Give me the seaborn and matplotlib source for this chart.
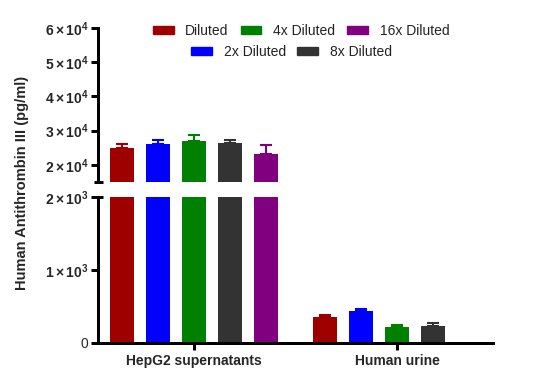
import numpy as np
import pandas as pd
import matplotlib
matplotlib.use("Agg")
import matplotlib.pyplot as plt
from matplotlib.patches import Patch
import seaborn as sns

# ---- data ----
categories = ["HepG2 supernatants", "Human urine"]
dilutions = ["Diluted", "2x Diluted", "4x Diluted", "8x Diluted", "16x Diluted"]
hepg2_mean = [25000, 26100, 26900, 26400, 23200]
hepg2_err = [1000, 1300, 1750, 800, 2600]
urine_mean = [360, 434, 219, 237, np.nan]
urine_err = [23, 27, 23, 33, np.nan]
colors = ["#9E0000", "#0000FF", "#008000", "#333333", "#800080"]

upper_ticks = [20000, 30000, 40000, 50000, 60000]
upper_labels = [r"$2\times10^{4}$", r"$3\times10^{4}$", r"$4\times10^{4}$",
                r"$5\times10^{4}$", r"$6\times10^{4}$"]
lower_ticks = [0, 1000, 2000]
lower_labels = ["0", r"$1\times10^{3}$", r"$2\times10^{3}$"]

rows = []
for c, means, errs in [(categories[0], hepg2_mean, hepg2_err),
                       (categories[1], urine_mean, urine_err)]:
    for d, m, e in zip(dilutions, means, errs):
        if not np.isnan(m):
            rows.append({"sample": c, "dilution": d, "value": m, "err": e})
df = pd.DataFrame(rows)

sns.set_style("white")
plt.rcParams["font.family"] = ["Liberation Sans", "DejaVu Sans"]
plt.rcParams["mathtext.fontset"] = "custom"
plt.rcParams["mathtext.rm"] = "Liberation Sans:bold"
plt.rcParams["mathtext.bf"] = "Liberation Sans:bold"
plt.rcParams["mathtext.it"] = "Liberation Sans:bold"
plt.rcParams["mathtext.default"] = "rm"

W, H = 538, 389
fig = plt.figure(figsize=(W / 100, H / 100), dpi=100)
left = 98 / W
width = (493 - 98) / W
ax_up = fig.add_axes([left, 1 - 182 / H, width, (182 - 28) / H])
ax_lo = fig.add_axes([left, 1 - 343 / H, width, (343 - 197) / H])

palette = dict(zip(dilutions, colors))
lw_sp = 2.16

for ax in (ax_up, ax_lo):
    sns.barplot(data=df, x="sample", y="value", hue="dilution",
                order=categories, hue_order=dilutions, palette=palette,
                width=0.887, gap=0.333, errorbar=None, legend=False,
                saturation=1, ax=ax, linewidth=0)
    # error bars (upper only) at bar centres
    for hue_name, cont in zip(dilutions, ax.containers):
        sub = df[df["dilution"] == hue_name].set_index("sample").reindex(categories).dropna()
        for patch, (_, r) in zip(cont.patches, sub.iterrows()):
            xc = patch.get_x() + patch.get_width() / 2
            ax.errorbar([xc], [r["value"]], yerr=[[0], [r["err"]]],
                        color=palette[hue_name], capsize=4, elinewidth=1.5,
                        capthick=1.5, fmt="none", zorder=3)
    ax.set_xlim(-0.473, 1.473)
    ax.set_xlabel("")
    ax.set_ylabel("")
    for s in ["top", "right"]:
        ax.spines[s].set_visible(False)
    ax.spines["left"].set_linewidth(lw_sp)
    ax.spines["bottom"].set_linewidth(lw_sp)
    ax.spines["left"].set_color("black")
    ax.spines["bottom"].set_color("black")
    ax.set_facecolor("none")
    ax.tick_params(axis="y", length=5, width=lw_sp, color="black", pad=2,
                   labelsize=10, direction="out", left=True)
    ax.tick_params(axis="x", length=5, width=lw_sp, color="black", pad=3,
                   direction="out", bottom=True)

ax_up.set_ylim(15000, 60000)
ax_up.set_yticks(upper_ticks)
ax_up.set_yticklabels(upper_labels)
ax_up.spines["bottom"].set_visible(False)
ax_up.tick_params(axis="x", bottom=False, labelbottom=False)

ax_lo.set_ylim(0, 2000)
ax_lo.set_yticks(lower_ticks)
ax_lo.set_yticklabels(lower_labels)
for lab in ax_lo.get_xticklabels():
    lab.set_fontweight("bold")
    lab.set_fontsize(10)

# break caps on the y axis
half = 4.5 / (493 - 98)
ax_up.plot([-half, half], [0, 0], transform=ax_up.transAxes, clip_on=False,
           color="black", lw=lw_sp, solid_capstyle="butt")
ax_lo.plot([-half, half], [1, 1], transform=ax_lo.transAxes, clip_on=False,
           color="black", lw=lw_sp, solid_capstyle="butt")

fig.text(22 / W, 1 - 182.5 / H, "Human Antithrombin III (pg/ml)", rotation=90,
         ha="center", va="center", fontsize=10.5, fontweight="bold")

# legends
row1 = ["Diluted", "4x Diluted", "16x Diluted"]
row2 = ["2x Diluted", "8x Diluted"]
common = dict(frameon=False, fontsize=10, handlelength=1.5, handleheight=0.5,
              handletextpad=0.85, columnspacing=0.85, loc="center",
              borderpad=0.1)
lg1 = fig.legend(handles=[Patch(color=palette[d], label=d) for d in row1],
                 ncol=3, bbox_to_anchor=(301 / W, 1 - 31 / H), **common)
lg2 = fig.legend(handles=[Patch(color=palette[d], label=d) for d in row2],
                 ncol=2, bbox_to_anchor=(291.5 / W, 1 - 52.3 / H), **common)
for lg in (lg1, lg2):
    for t in lg.get_texts():
        t.set_color("#222222")

fig.savefig("out.png", dpi=100)
